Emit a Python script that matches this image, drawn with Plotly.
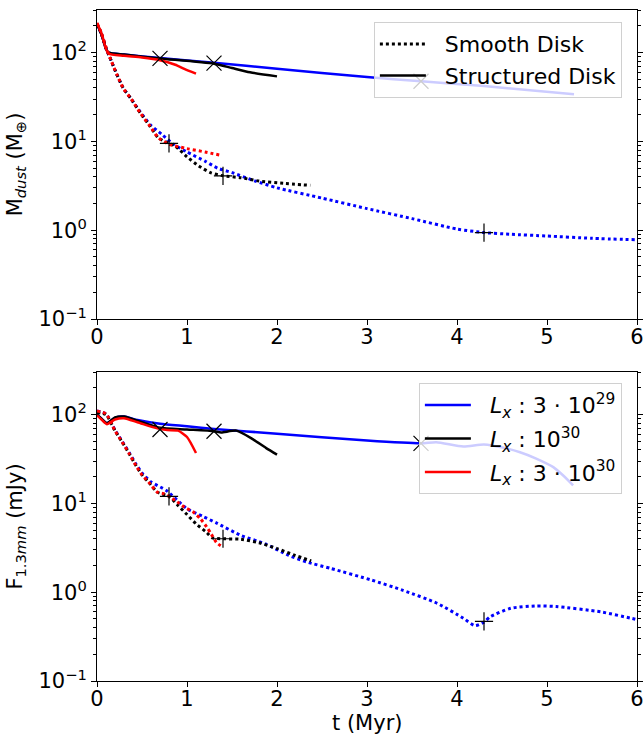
import plotly.graph_objects as go

# ---------------- Top panel: dust mass (M_earth) ----------------
t_top_blue_solid = [0, 0.05, 0.1, 0.13, 0.3, 0.7, 1.3, 2.0, 3.0, 3.6, 4.3, 5.3]
m_top_blue_solid = [210, 160, 110, 100, 95, 87, 77, 66, 53, 47.6, 42, 34]
t_top_black_solid = [0, 0.05, 0.1, 0.13, 0.3, 0.7, 1.3, 1.5, 1.7, 2.0]
m_top_black_solid = [210, 160, 110, 100, 95, 86, 75, 67, 60, 54]
t_top_red_solid = [0, 0.05, 0.1, 0.13, 0.3, 0.5, 0.7, 0.87, 0.97, 1.1]
m_top_red_solid = [215, 165, 110, 97, 92, 88, 82, 73, 65.6, 58]

t_top_red_dot = [0, 0.05, 0.1, 0.16, 0.22, 0.29, 0.38, 0.48, 0.59, 0.68, 0.8, 1.0, 1.2, 1.37]
m_top_red_dot = [215, 165, 115, 80, 57, 40, 30, 21, 14.8, 11, 9.3, 8.3, 7.6, 7.0]
t_top_black_dot = [0, 0.05, 0.1, 0.16, 0.22, 0.29, 0.38, 0.48, 0.59, 0.68, 0.8, 0.87, 1.0, 1.13, 1.26, 1.4, 1.6, 1.8, 2.07, 2.37]
m_top_black_dot = [210, 162, 113, 80, 57, 40, 30, 21, 14.8, 11, 9.5, 8.86, 6.7, 5.3, 4.45, 4.1, 3.9, 3.58, 3.37, 3.2]
t_top_blue_dot = [0, 0.05, 0.1, 0.16, 0.22, 0.29, 0.38, 0.48, 0.59, 0.72, 0.85, 1.0, 1.2, 1.34, 1.5, 1.75, 2.0, 2.5, 3.0, 3.5, 4.0, 4.3, 4.6, 5.0, 5.5, 6.0]
m_top_blue_dot = [210, 162, 113, 80, 57, 40, 30, 21.5, 15.5, 12, 9.3, 7.6, 6.0, 5.0, 4.45, 3.6, 3.0, 2.3, 1.75, 1.35, 1.03, 0.94, 0.9, 0.86, 0.81, 0.78]

t_top_x_marks = [0.7, 1.3, 3.6]
m_top_x_marks = [86, 76, 47.6]
t_top_plus_marks = [0.8, 1.4, 4.3]
m_top_plus_marks = [9.5, 4.1, 0.94]

# ---------------- Bottom panel: 1.3 mm flux (mJy) ----------------
t_bot_blue_solid = [0, 0.05, 0.11, 0.2, 0.3, 0.45, 0.7, 1.0, 1.3, 2.0, 3.0, 3.6, 3.77, 4.07, 4.3, 4.52, 4.7, 4.88, 5.07, 5.18, 5.29]
f_bot_blue_solid = [100, 90, 80, 92, 95, 87, 79, 74, 69, 61, 51, 47.5, 48.9, 43.7, 46, 42.3, 37.7, 32, 25.6, 20.6, 16]
t_bot_black_solid = [0, 0.05, 0.11, 0.2, 0.3, 0.5, 0.7, 1.0, 1.3, 1.38, 1.55, 1.73, 1.88, 2.0]
f_bot_black_solid = [100, 90, 80, 93, 95, 82, 71, 68, 65, 63, 66, 53, 42, 35.5]
t_bot_red_solid = [0, 0.05, 0.11, 0.2, 0.3, 0.45, 0.67, 0.78, 0.9, 1.0, 1.1]
f_bot_red_solid = [98, 88, 78, 88, 91, 82, 70, 67, 66, 56, 37]

t_bot_red_dot = [0, 0.1, 0.2, 0.28, 0.36, 0.43, 0.5, 0.59, 0.67, 0.75, 0.87, 0.97, 1.07, 1.15, 1.22, 1.27, 1.33, 1.38]
f_bot_red_dot = [110, 102, 66, 49, 36, 27, 21, 16.6, 13.4, 12.8, 10.8, 9.1, 8.0, 6.7, 5.4, 4.5, 3.6, 3.3]
t_bot_black_dot = [0, 0.1, 0.2, 0.28, 0.36, 0.43, 0.5, 0.59, 0.67, 0.8, 0.9, 1.0, 1.1, 1.22, 1.28, 1.4, 1.6, 1.8, 2.0, 2.2, 2.38]
f_bot_black_dot = [105, 100, 66, 49, 36, 27, 21, 16.6, 13.4, 12, 9.5, 7.5, 5.9, 4.7, 4.1, 4.0, 3.95, 3.6, 3.1, 2.6, 2.25]
t_bot_blue_dot = [0, 0.1, 0.2, 0.28, 0.36, 0.43, 0.5, 0.6, 0.77, 1.0, 1.17, 1.33, 1.6, 1.87, 2.13, 2.33, 2.6, 3.05, 3.4, 3.78, 4.07, 4.2, 4.3, 4.37, 4.6, 4.88, 5.1, 5.6, 5.93, 6.0]
f_bot_blue_dot = [110, 102, 67, 50, 37, 28, 22, 17.5, 14, 8.7, 7.2, 6.0, 4.36, 3.5, 2.6, 2.19, 1.85, 1.37, 1.05, 0.75, 0.51, 0.42, 0.46, 0.53, 0.66, 0.70, 0.69, 0.6, 0.51, 0.49]

t_bot_x_marks = [0.7, 1.3, 3.6]
f_bot_x_marks = [68, 65, 47.5]
t_bot_plus_marks = [0.8, 1.4, 4.3]
f_bot_plus_marks = [12, 4.0, 0.47]

legend_top_labels = ["Smooth Disk", "Structured Disk"]
legend_bot_labels = ["<i>L</i><sub><i>x</i></sub> : 3 · 10<sup>29</sup>",
                     "<i>L</i><sub><i>x</i></sub> : 10<sup>30</sup>",
                     "<i>L</i><sub><i>x</i></sub> : 3 · 10<sup>30</sup>"]
x_title = "t (Myr)"

ytick_vals = [0.1, 1, 10, 100]
ytick_text = ["10<sup>−1</sup>", "10<sup>0</sup>", "10<sup>1</sup>", "10<sup>2</sup>"]
xtick_vals = [0, 1, 2, 3, 4, 5, 6]

BLUE, BLACK, RED = "#0000ff", "#000000", "#ff0000"
FONT = "DejaVu Sans"
FS = 21
LFS = 22
SOLID_W = 2.5
DOT_W = 3
PAD = "\u00a0\u00a0"

fig = go.Figure()

def add_line(x, y, color, dotted, xa, ya):
    fig.add_trace(go.Scatter(
        x=x, y=y, mode="lines", xaxis=xa, yaxis=ya, showlegend=False,
        line=dict(color=color, width=DOT_W if dotted else SOLID_W,
                  dash="3px,3px" if dotted else "solid", shape="spline", smoothing=0.6),
        hoverinfo="skip"))

# top panel
for x, y, c, d in [
    (t_top_blue_solid, m_top_blue_solid, BLUE, False),
    (t_top_blue_dot, m_top_blue_dot, BLUE, True),
    (t_top_black_solid, m_top_black_solid, BLACK, False),
    (t_top_black_dot, m_top_black_dot, BLACK, True),
    (t_top_red_solid, m_top_red_solid, RED, False),
    (t_top_red_dot, m_top_red_dot, RED, True),
]:
    add_line(x, y, c, d, "x", "y")

# bottom panel
for x, y, c, d in [
    (t_bot_blue_solid, f_bot_blue_solid, BLUE, False),
    (t_bot_blue_dot, f_bot_blue_dot, BLUE, True),
    (t_bot_black_solid, f_bot_black_solid, BLACK, False),
    (t_bot_black_dot, f_bot_black_dot, BLACK, True),
    (t_bot_red_solid, f_bot_red_solid, RED, False),
    (t_bot_red_dot, f_bot_red_dot, RED, True),
]:
    add_line(x, y, c, d, "x2", "y2")

# markers
for xs, ys, sym, size, xa, ya in [
    (t_top_x_marks, m_top_x_marks, "x-thin", 15, "x", "y"),
    (t_top_plus_marks, m_top_plus_marks, "cross-thin", 13, "x", "y"),
    (t_bot_x_marks, f_bot_x_marks, "x-thin", 15, "x2", "y2"),
    (t_bot_plus_marks, f_bot_plus_marks, "cross-thin", 13, "x2", "y2"),
]:
    fig.add_trace(go.Scatter(
        x=xs, y=ys, mode="markers", xaxis=xa, yaxis=ya, showlegend=False,
        marker=dict(symbol=sym, size=size, color=BLACK, line=dict(color=BLACK, width=1.2)),
        hoverinfo="skip"))

# legend entries (top)
fig.add_trace(go.Scatter(x=[None], y=[None], mode="lines", name=PAD + legend_top_labels[0],
                         line=dict(color=BLACK, width=DOT_W, dash="3px,3px"),
                         legend="legend", legendgroup="t1", xaxis="x", yaxis="y"))
fig.add_trace(go.Scatter(x=[None], y=[None], mode="lines", name=PAD + legend_top_labels[1],
                         line=dict(color=BLACK, width=SOLID_W),
                         legend="legend", legendgroup="t2", xaxis="x", yaxis="y"))
# legend entries (bottom)
for i, (lab, c) in enumerate(zip(legend_bot_labels, [BLUE, BLACK, RED])):
    fig.add_trace(go.Scatter(x=[None], y=[None], mode="lines", name=PAD + lab,
                             line=dict(color=c, width=SOLID_W),
                             legend="legend2", legendgroup="b%d" % i, xaxis="x2", yaxis="y2"))

axis_common = dict(showline=True, linecolor="black", linewidth=1, ticks="outside",
                   ticklen=5, tickwidth=1, tickcolor="black", showgrid=False, zeroline=False,
                   automargin=False, ticklabeloverflow="allow",
                   tickfont=dict(family=FONT, size=FS, color="black"))

minor_vals = [m * 10 ** e for e in range(-1, 3) for m in range(2, 10)]

def yaxis_cfg(domain, title, anchor):
    return dict(axis_common, type="log", range=[-1, 2.48], domain=domain, anchor=anchor,
                tickvals=ytick_vals, ticktext=ytick_text, mirror="allticks",
                minor=dict(ticks="outside", ticklen=3, tickwidth=1, tickcolor="black",
                           tickvals=minor_vals, showgrid=False),
                title=dict(text=title, font=dict(family=FONT, size=FS, color="black"), standoff=10))

def xaxis_cfg(anchor):
    return dict(axis_common, range=[0, 6], domain=[0, 1], anchor=anchor, tickvals=xtick_vals,
                mirror=True, ticklabelstandoff=-6)

legend_common = dict(bgcolor="rgba(255,255,255,0.8)", bordercolor="#d0d0d0", borderwidth=1,
                     font=dict(family=FONT, size=LFS, color="black"), itemwidth=46,
                     xanchor="right", yanchor="top", x=0.972, xref="paper", yref="paper")

fig.update_layout(
    width=643, height=735,
    margin=dict(l=97, r=6, t=10, b=54),
    paper_bgcolor="white", plot_bgcolor="white",
    font=dict(family=FONT, size=FS, color="black"),
    xaxis=xaxis_cfg("y"),
    yaxis=yaxis_cfg([0.5395, 1.0], "M<sub><i>dust</i></sub> (M<sub>⊕</sub>)", "x"),
    xaxis2=xaxis_cfg("y2"),
    yaxis2=yaxis_cfg([0.0, 0.4605], "F<sub>1.3<i>mm</i></sub> (mJy)", "x2"),
    legend=dict(legend_common, y=0.982, tracegroupgap=0),
    legend2=dict(legend_common, y=0.444, tracegroupgap=2),
)

# x-axis title of the lower panel, placed like the original
fig.add_annotation(text=x_title, xref="paper", yref="paper", x=0.5, y=-0.062,
                   xanchor="center", yanchor="middle", showarrow=False,
                   font=dict(family=FONT, size=FS, color="black"))

fig.write_html("out.html", config={"displayModeBar": False},
               post_script="document.body.style.margin='0px';")
